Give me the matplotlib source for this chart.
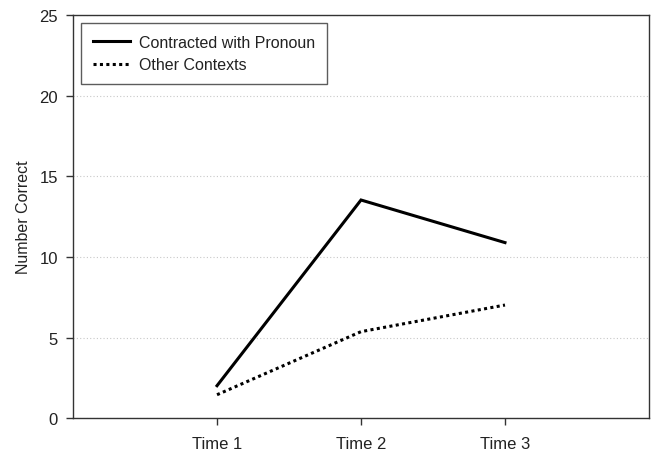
import matplotlib.pyplot as plt

plt.rcParams['font.family'] = ['Liberation Sans', 'DejaVu Sans']

# Data
times = ['Time 1', 'Time 2', 'Time 3']
contracted = [2.02, 13.53, 10.89]
other = [1.46, 5.37, 7.02]

fig = plt.figure(figsize=(6.55, 4.56), dpi=100)
ax = fig.add_axes([0.1115, 0.0805, 0.8793, 0.8845])

x = range(1, len(times) + 1)
ax.plot(x, contracted, color='black', linewidth=2.2, solid_joinstyle='miter',
        label='Contracted with Pronoun')
ax.plot(x, other, color='black', linewidth=2.2, linestyle=(0, (1, 1.1)),
        label='Other Contexts')

ax.set_xlim(0, 4)
ax.set_ylim(0, 25)
ax.set_xticks(list(x))
ax.set_xticklabels(times)
ax.set_yticks([0, 5, 10, 15, 20, 25])
ax.set_ylabel('Number Correct', fontsize=11.5, labelpad=6, color='#222222')

ax.yaxis.grid(True, color='#c8c8c8', linestyle=(0, (1, 2)), linewidth=0.8)
ax.set_axisbelow(True)

for s in ax.spines.values():
    s.set_color('#333333')
    s.set_linewidth(1.0)
ax.tick_params(axis='both', direction='out', length=5, width=1, color='#333333',
               labelsize=12, pad=6, labelcolor='#222222')
ax.tick_params(axis='x', pad=8)

leg = ax.legend(loc='upper left', fontsize=11.5, frameon=True, fancybox=False,
                handlelength=2.3, handletextpad=0.6, borderaxespad=0.5,
                borderpad=0.75, labelspacing=0.45)
leg.get_frame().set_edgecolor('#333333')
leg.get_frame().set_linewidth(1.0)
for t in leg.get_texts():
    t.set_color('#222222')

fig.savefig('out.png', dpi=100)
